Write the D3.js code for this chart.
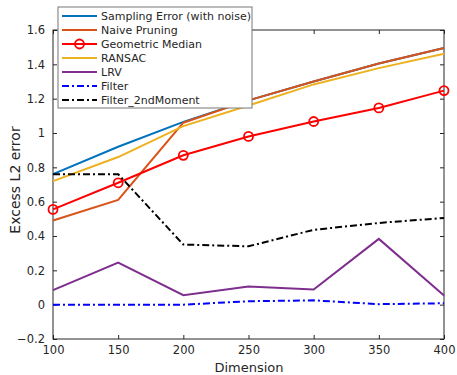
<!DOCTYPE html>
<html>
<head>
<meta charset="utf-8">
<script src="https://cdn.jsdelivr.net/npm/d3@7"></script>
<style>
body { margin: 0; background: #fff; }
text { font-family: "DejaVu Sans", sans-serif; }
</style>
</head>
<body>
<div id="chart"></div>
<script>
var dims = [100, 150, 200, 250, 300, 350, 400];
var samplingError = [0.76, 0.92, 1.065, 1.19, 1.30, 1.405, 1.495];
var naivePruning = [0.49, 0.61, 1.06, 1.19, 1.30, 1.405, 1.495];
var geoMedian = [0.555, 0.71, 0.87, 0.98, 1.067, 1.146, 1.247];
var ransac = [0.72, 0.86, 1.04, 1.16, 1.283, 1.378, 1.462];
var lrv = [0.085, 0.245, 0.055, 0.106, 0.088, 0.383, 0.053];
var filter = [0.0, 0.0, 0.0, 0.02, 0.025, 0.003, 0.008];
var filter2nd = [0.76, 0.76, 0.35, 0.34, 0.436, 0.476, 0.505];
var xTicks = [100, 150, 200, 250, 300, 350, 400];
var yTicks = [-0.2, 0, 0.2, 0.4, 0.6, 0.8, 1, 1.2, 1.4, 1.6];

var series = [
	{name: 'Sampling Error (with noise)', values: samplingError, color: '#0072BD', dash: null, marker: false},
	{name: 'Naive Pruning', values: naivePruning, color: '#D95319', dash: null, marker: false},
	{name: 'Geometric Median', values: geoMedian, color: '#FF0000', dash: null, marker: true},
	{name: 'RANSAC', values: ransac, color: '#EDB120', dash: null, marker: false},
	{name: 'LRV', values: lrv, color: '#7E2F8E', dash: null, marker: false},
	{name: 'Filter', values: filter, color: '#0000FF', dash: '7,3,2,3', marker: false},
	{name: 'Filter_2ndMoment', values: filter2nd, color: '#000000', dash: '7,3,2,3', marker: false}
];

var width = 457, height = 375;
var margin = {top: 30, right: 13, bottom: 36, left: 53};
var w = width - margin.left - margin.right;
var h = height - margin.top - margin.bottom;

var svg = d3.select('#chart').append('svg')
	.attr('width', width)
	.attr('height', height);

var g = svg.append('g').attr('transform', 'translate(' + margin.left + ',' + margin.top + ')');

var x = d3.scaleLinear().domain([100, 400]).range([0, w]);
var y = d3.scaleLinear().domain([-0.2, 1.6]).range([h, 0]);

var axisColor = '#262626';
var fmt = function(d){ return d3.format('~g')(+d.toFixed(1)); };

function styleAxis(sel){
	sel.select('.domain').remove();
	sel.selectAll('line').attr('stroke', axisColor);
	sel.selectAll('text').attr('fill', axisColor).style('font-size', '11.5px');
}

g.append('g')
	.attr('transform', 'translate(0,' + h + ')')
	.call(d3.axisBottom(x).tickValues(xTicks).tickSize(-4).tickPadding(7))
	.call(styleAxis);
g.append('g')
	.call(d3.axisTop(x).tickValues(xTicks).tickSize(-4).tickFormat(''))
	.call(styleAxis);
g.append('g')
	.call(d3.axisLeft(y).tickValues(yTicks).tickSize(-4).tickPadding(8).tickFormat(fmt))
	.call(styleAxis);
g.append('g')
	.attr('transform', 'translate(' + w + ',0)')
	.call(d3.axisRight(y).tickValues(yTicks).tickSize(-4).tickFormat(''))
	.call(styleAxis);

g.append('rect')
	.attr('width', w).attr('height', h)
	.attr('fill', 'none').attr('stroke', axisColor).attr('stroke-width', 1);

var line = d3.line()
	.x(function(d, i){ return x(dims[i]); })
	.y(function(d){ return y(d); });

series.forEach(function(s){
	g.append('path')
		.datum(s.values)
		.attr('fill', 'none')
		.attr('stroke', s.color)
		.attr('stroke-width', 2)
		.attr('stroke-dasharray', s.dash)
		.attr('d', line);
	if(s.marker){
		g.selectAll(null).data(s.values).enter().append('circle')
			.attr('cx', function(d, i){ return x(dims[i]); })
			.attr('cy', function(d){ return y(d); })
			.attr('r', 4.5)
			.attr('fill', 'none')
			.attr('stroke', s.color)
			.attr('stroke-width', 1.8);
	}
});

// axis labels
svg.append('text')
	.attr('x', 249).attr('y', 372)
	.attr('text-anchor', 'middle')
	.attr('fill', axisColor)
	.style('font-size', '13px')
	.text('Dimension');
svg.append('text')
	.attr('transform', 'translate(20,180) rotate(-90)')
	.attr('text-anchor', 'middle')
	.attr('fill', axisColor)
	.style('font-size', '14px')
	.text('Excess L2 error');

// legend
var legend = svg.append('g').attr('transform', 'translate(58,7)');
legend.append('rect')
	.attr('width', 194).attr('height', 101)
	.attr('fill', '#fff').attr('stroke', '#777').attr('stroke-width', 1);
series.forEach(function(s, i){
	var ly = 9 + i * 14;
	legend.append('line')
		.attr('x1', 4).attr('x2', 39).attr('y1', ly).attr('y2', ly)
		.attr('stroke', s.color).attr('stroke-width', 2)
		.attr('stroke-dasharray', s.dash);
	if(s.marker){
		legend.append('circle')
			.attr('cx', 21.5).attr('cy', ly).attr('r', 4.5)
			.attr('fill', 'none').attr('stroke', s.color).attr('stroke-width', 1.8);
	}
	legend.append('text')
		.attr('x', 43).attr('y', ly + 4)
		.attr('fill', axisColor)
		.style('font-size', '11px')
		.text(s.name);
});
</script>
</body>
</html>
